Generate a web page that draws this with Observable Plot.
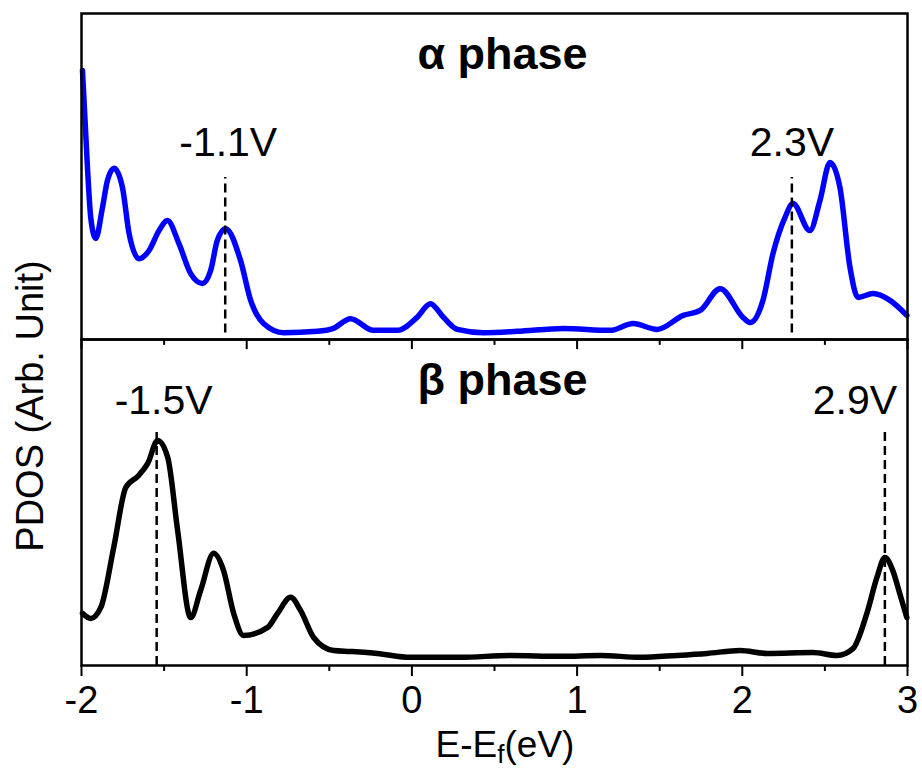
<!DOCTYPE html>
<html>
<head>
<meta charset="utf-8">
<script src="https://cdn.jsdelivr.net/npm/d3@7"></script>
<script src="https://cdn.jsdelivr.net/npm/@observablehq/plot@0.6"></script>
<style>
  html, body { margin: 0; padding: 0; background: #fff; }
  #chart { position: relative; width: 922px; height: 769px; }
  svg text { font-family: "Liberation Sans", Arial, sans-serif; }
</style>
</head>
<body>
<div id="chart"></div>
<script>
// ---- data (E - Ef in eV, PDOS in arbitrary units) ----
const alphaE = [-1.994, -1.964, -1.944, -1.914, -1.873, -1.843, -1.803, -1.752, -1.712, -1.652,
  -1.591, -1.531, -1.480, -1.410, -1.339, -1.268, -1.218, -1.178, -1.128, -1.037,
  -0.976, -0.898, -0.777, -0.571, -0.475, -0.372, -0.233, -0.088, 0.031, 0.112,
  0.191, 0.275, 0.432, 0.638, 0.916, 1.200, 1.339, 1.485, 1.642, 1.745,
  1.866, 2.005, 2.047, 2.125, 2.186, 2.258, 2.307, 2.409, 2.470, 2.531,
  2.591, 2.652, 2.700, 2.791, 2.894, 2.996];
const alphaPDOS = [8.25, 5.28, 3.74, 3.10, 4.05, 4.88, 5.25, 4.66, 3.25, 2.48,
  2.73, 3.34, 3.65, 2.94, 2.02, 1.72, 2.12, 3.04, 3.40, 2.42,
  1.20, 0.49, 0.21, 0.25, 0.34, 0.64, 0.28, 0.28, 0.68, 1.10,
  0.68, 0.31, 0.21, 0.25, 0.34, 0.28, 0.49, 0.31, 0.74, 0.89,
  1.56, 0.67, 0.52, 1.20, 2.64, 3.74, 4.17, 3.34, 4.26, 5.43,
  4.66, 2.21, 1.29, 1.41, 1.20, 0.74];

const betaE = [-1.994, -1.944, -1.883, -1.805, -1.732, -1.654, -1.599, -1.539, -1.478, -1.418,
  -1.339, -1.279, -1.200, -1.140, -1.079, -1.019, -0.873, -0.813, -0.734, -0.674,
  -0.595, -0.474, -0.372, -0.209, -0.009, 0.293, 0.596, 0.898, 1.140, 1.382,
  1.606, 1.787, 1.987, 2.150, 2.428, 2.573, 2.670, 2.754, 2.815, 2.863,
  2.911, 2.953, 2.996];
const betaPDOS = [1.60, 1.44, 1.78, 3.62, 5.46, 5.83, 6.20, 6.90, 6.38, 4.14,
  1.47, 2.30, 3.44, 2.91, 1.60, 0.92, 1.17, 1.60, 2.09, 1.69,
  0.86, 0.46, 0.43, 0.37, 0.25, 0.25, 0.31, 0.28, 0.31, 0.25,
  0.31, 0.37, 0.46, 0.37, 0.40, 0.31, 0.52, 1.60, 2.70, 3.31,
  2.91, 2.21, 1.47];

const panels = ["α", "β"];
const panelTitles = ["α phase", "β phase"];

const markerPanel = ["α", "α", "β", "β"];
const markerE = [-1.13, 2.30, -1.545, 2.863];
const markerLabel = ["-1.1V", "2.3V", "-1.5V", "2.9V"];

const majorTicks = [-2, -1, 0, 1, 2, 3];
const minorTicks = [-1.5, -0.5, 0.5, 1.5, 2.5];

// ---- tables built from the arrays ----
const alphaRows = alphaE.map((e, i) => ({E: e, v: alphaPDOS[i], panel: "α"}));
const betaRows = betaE.map((e, i) => ({E: e, v: betaPDOS[i], panel: "β"}));
const titleRows = panels.map((p, i) => ({panel: p, title: panelTitles[i]}));
const labelDx = [3, 0, 7, -30];
const lineTop = {"α": 4.97, "β": 7.30};
const lineBottom = {"α": 0.2, "β": 0};
const markerRows = markerE.map((e, i) => ({
  E: e, panel: markerPanel[i], label: markerLabel[i], dx: labelDx[i],
  y1: lineBottom[markerPanel[i]], y2: lineTop[markerPanel[i]],
  ly: markerPanel[i] === "α" ? 5.64 : 7.73
}));

const font = "Liberation Sans, Arial, sans-serif";

const chart = Plot.plot({
  width: 922,
  height: 769,
  marginTop: 13,
  marginBottom: 104,
  marginLeft: 81,
  marginRight: 15,
  style: {fontFamily: font, background: "#fff", color: "black", overflow: "visible"},
  x: {domain: [-2, 3]},
  y: {domain: [0, 10], axis: null},
  fy: {domain: panels, axis: null, padding: 0},
  marks: [
    Plot.line(alphaRows, {x: "E", y: "v", fy: "panel", stroke: "#0000ff", strokeWidth: 5.5, curve: "monotone-x", strokeLinejoin: "round"}),
    Plot.line(betaRows, {x: "E", y: "v", fy: "panel", stroke: "black", strokeWidth: 5.5, curve: "monotone-x", strokeLinejoin: "round"}),
    ...markerRows.map(m => Plot.ruleX([m], {x: "E", y1: "y1", y2: "y2", fy: "panel", stroke: "black", strokeWidth: 2.5, strokeDasharray: "9,5"})),
    ...markerRows.map(m => Plot.text([m], {x: "E", y: "ly", fy: "panel", text: "label", dx: m.dx, lineAnchor: "bottom", textAnchor: "middle", fontSize: 41, fill: "black"})),
    Plot.text(titleRows, {fy: "panel", text: "title", frameAnchor: "top", lineAnchor: "bottom", dy: 55, dx: 8, fontSize: 45, fontWeight: "bold", fill: "black"}),
    Plot.frame({stroke: "black", strokeWidth: 2.5}),
    // inward ticks on the shared border (top edge of the β panel)
    Plot.ruleX(majorTicks, {x: d => d, fy: () => "β", y1: 10, y2: 9.69, stroke: "black", strokeWidth: 2}),
    Plot.ruleX(minorTicks, {x: d => d, fy: () => "β", y1: 10, y2: 9.82, stroke: "black", strokeWidth: 2}),
    Plot.axisX({anchor: "bottom", ticks: majorTicks, tickSize: 11, tickPadding: 10, tickFormat: d => String(d), fontSize: 38, label: null, strokeWidth: 2}),
    Plot.axisX({anchor: "bottom", ticks: minorTicks, tickSize: 6, tickFormat: () => "", label: null, strokeWidth: 2})
  ]
});

document.getElementById("chart").appendChild(chart);

// axis titles
const svg = d3.select(chart);
svg.append("text")
  .attr("transform", "translate(43,406) rotate(-90)")
  .attr("text-anchor", "middle")
  .attr("font-size", 38)
  .attr("fill", "black")
  .text("PDOS (Arb. Unit)");

const xl = svg.append("text")
  .attr("x", 505)
  .attr("y", 757)
  .attr("text-anchor", "middle")
  .attr("font-size", 37)
  .attr("fill", "black");
xl.append("tspan").text("E-E");
xl.append("tspan").attr("font-size", 26).attr("dy", 6).text("f");
xl.append("tspan").attr("dy", -6).text("(eV)");
</script>
</body>
</html>
